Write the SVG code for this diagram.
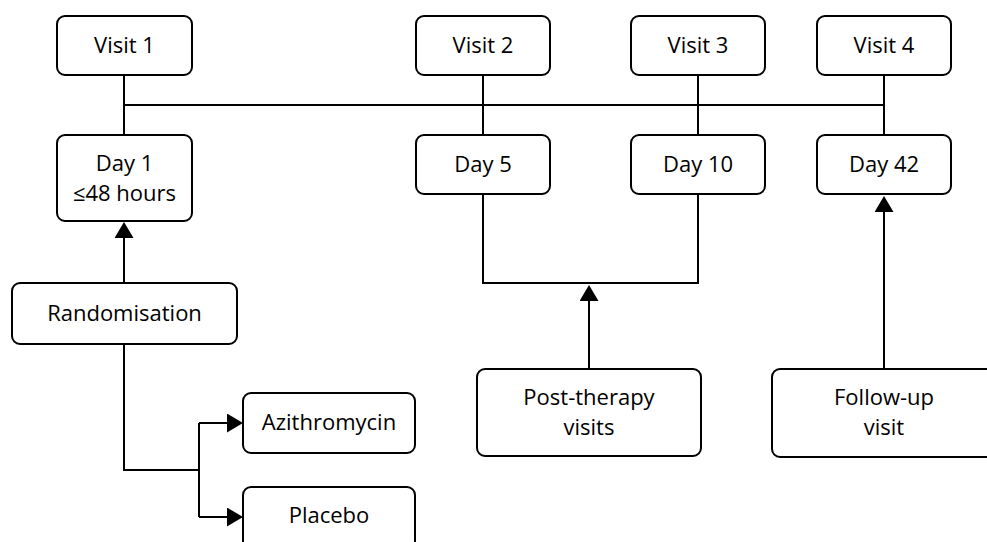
<svg xmlns="http://www.w3.org/2000/svg" width="987" height="542" viewBox="0 0 987 542">
<style>
  .box { fill: #ffffff; stroke: #000000; stroke-width: 2; }
  .lbl { font-family: "Open Sans", "Liberation Sans", sans-serif; font-size: 22px; fill: #000000; text-anchor: middle; }
  .conn { fill: none; stroke: #000000; stroke-width: 2; }
</style>
<defs>
  <marker id="arrow" markerUnits="userSpaceOnUse" markerWidth="18" markerHeight="20" refX="14" refY="9.5" orient="auto">
    <path d="M0,0 L16,9.5 L0,19 z" fill="#000000"/>
  </marker>
</defs>
<rect width="987" height="542" fill="#ffffff"/>
<g id="connectors">
  <path class="conn" d="M124,105 L884,105"/>
  <path class="conn" d="M124,75 L124,135"/>
  <path class="conn" d="M483,75 L483,135"/>
  <path class="conn" d="M698,75 L698,135"/>
  <path class="conn" d="M884,75 L884,135"/>
  <path class="conn" d="M124,283 L124,224" marker-end="url(#arrow)"/>
  <path class="conn" d="M124,344 L124,470 L199,470"/>
  <path class="conn" d="M199,423 L199,517"/>
  <path class="conn" d="M199,423 L241,423" marker-end="url(#arrow)"/>
  <path class="conn" d="M199,517 L241,517" marker-end="url(#arrow)"/>
  <path class="conn" d="M483,194 L483,283 L698,283 L698,194"/>
  <path class="conn" d="M589,369 L589,287" marker-end="url(#arrow)"/>
  <path class="conn" d="M884,369 L884,198" marker-end="url(#arrow)"/>
</g>
<g id="visit1"><rect class="box" x="57" y="16" width="135" height="59" rx="8"/><text class="lbl" x="124.5" y="53">Visit 1</text></g>
<g id="visit2"><rect class="box" x="416" y="16" width="134" height="59" rx="8"/><text class="lbl" x="483" y="53">Visit 2</text></g>
<g id="visit3"><rect class="box" x="631" y="16" width="134" height="59" rx="8"/><text class="lbl" x="698" y="53">Visit 3</text></g>
<g id="visit4"><rect class="box" x="817" y="16" width="134" height="59" rx="8"/><text class="lbl" x="884" y="53">Visit 4</text></g>
<g id="day1"><rect class="box" x="57" y="135" width="135" height="86" rx="8"/><text class="lbl" x="124.5" y="171">Day 1</text><text class="lbl" x="124.5" y="201">≤48 hours</text></g>
<g id="day5"><rect class="box" x="416" y="135" width="134" height="59" rx="8"/><text class="lbl" x="483" y="172">Day 5</text></g>
<g id="day10"><rect class="box" x="631" y="135" width="134" height="59" rx="8"/><text class="lbl" x="698" y="172">Day 10</text></g>
<g id="day42"><rect class="box" x="817" y="135" width="134" height="59" rx="8"/><text class="lbl" x="884" y="172">Day 42</text></g>
<g id="randomisation"><rect class="box" x="12" y="283" width="225" height="61" rx="8"/><text class="lbl" x="124.5" y="321">Randomisation</text></g>
<g id="azithromycin"><rect class="box" x="243" y="393" width="172" height="60" rx="8"/><text class="lbl" x="329" y="430">Azithromycin</text></g>
<g id="placebo"><rect class="box" x="243" y="487" width="172" height="62" rx="8"/><text class="lbl" x="329" y="523">Placebo</text></g>
<g id="post-therapy"><rect class="box" x="477" y="369" width="224" height="87" rx="8"/><text class="lbl" x="589" y="405">Post-therapy</text><text class="lbl" x="589" y="435">visits</text></g>
<g id="follow-up"><rect class="box" x="772" y="369" width="224" height="88" rx="8"/><text class="lbl" x="884" y="405">Follow-up</text><text class="lbl" x="884" y="435">visit</text></g>
</svg>
